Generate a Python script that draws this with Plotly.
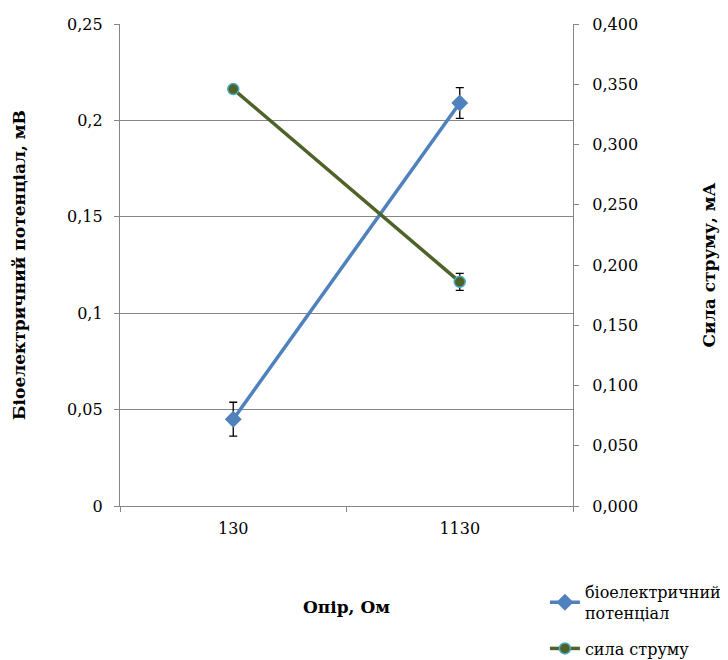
import plotly.graph_objects as go

categories = ["130", "1130"]
bio_potential = [0.045, 0.209]
bio_err = [0.0088, 0.008]
current = [0.346, 0.186]
current_err = [0.0, 0.007]

left_ticks = [0, 0.05, 0.1, 0.15, 0.2, 0.25]
left_ticktext = ["0", "0,05", "0,1", "0,15", "0,2", "0,25"]
right_ticks = [0, 0.05, 0.1, 0.15, 0.2, 0.25, 0.3, 0.35, 0.4]
right_ticktext = ["0,000", "0,050", "0,100", "0,150", "0,200", "0,250", "0,300", "0,350", "0,400"]

FONT = "DejaVu Serif"
GRID = "#868686"
FS = 16
TFS = 17

fig = go.Figure()
fig.add_trace(go.Scatter(
    x=categories, y=bio_potential, name="біоелектричний<br>потенціал",
    legendgroup="a",
    mode="lines+markers",
    line=dict(color="#4F81BD", width=3.5),
    marker=dict(symbol="diamond", size=13, color="#4F81BD"),
    error_y=dict(type="data", array=bio_err, color="black", thickness=1.3, width=4),
    yaxis="y",
))
fig.add_trace(go.Scatter(
    x=categories, y=current, name="сила струму",
    legendgroup="b",
    mode="lines+markers",
    line=dict(color="#4F6228", width=3.5),
    marker=dict(symbol="circle", size=11, color="#4F6228", line=dict(color="#4BACC6", width=1.5)),
    error_y=dict(type="data", array=current_err, color="black", thickness=1.3, width=4),
    yaxis="y2",
))

fig.update_layout(
    width=720, height=652,
    margin=dict(l=112, r=155, t=16, b=154, autoexpand=False),
    plot_bgcolor="white", paper_bgcolor="white",
    font=dict(family=FONT, size=FS, color="black"),
    showlegend=True,
    legend=dict(x=0.938, y=-0.143, xanchor="left", yanchor="top",
                font=dict(family=FONT, size=FS), tracegroupgap=12,
                bgcolor="rgba(0,0,0,0)"),
    xaxis=dict(
        type="category", range=[-0.5, 1.5], tickson="boundaries",
        showline=True, linecolor=GRID, linewidth=1.3,
        ticks="outside", ticklen=5, tickcolor=GRID,
        showgrid=False, ticklabelstandoff=8, automargin=False,
        title=dict(text="<b>Опір, Ом</b>", font=dict(family=FONT, size=TFS), standoff=63),
    ),
    yaxis=dict(
        range=[0, 0.25], tickvals=left_ticks, ticktext=left_ticktext,
        showline=True, linecolor=GRID, linewidth=1.3,
        ticks="outside", ticklen=5, tickcolor=GRID,
        showgrid=True, gridcolor=GRID, gridwidth=1.3,
        zeroline=False, ticklabelstandoff=8, automargin=False,
        title=dict(text="<b>Біоелектричний потенціал, мВ</b>", font=dict(family=FONT, size=TFS), standoff=37),
    ),
    yaxis2=dict(
        range=[0, 0.4], tickvals=right_ticks, ticktext=right_ticktext,
        overlaying="y", side="right",
        showline=True, linecolor=GRID, linewidth=1.3,
        ticks="outside", ticklen=5, tickcolor=GRID,
        showgrid=False, zeroline=False, ticklabelstandoff=10, automargin=False,
        title=dict(text="<b>Сила струму, мА</b>", font=dict(family=FONT, size=TFS), standoff=65),
    ),
)

fig.write_html("out.html")
